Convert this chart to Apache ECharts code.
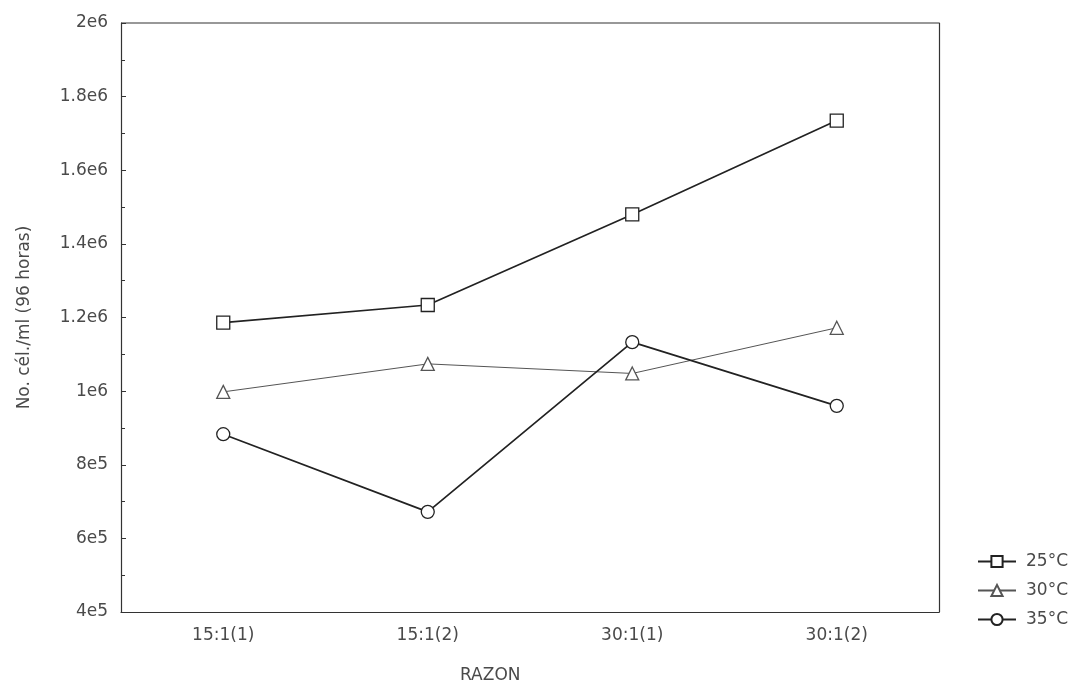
<!DOCTYPE html>
<html>
<head>
<meta charset="utf-8">
<script src="https://cdn.jsdelivr.net/npm/echarts@6/dist/echarts.min.js"></script>
<style>
  html, body { margin: 0; padding: 0; background: #fff; }
  #chart { width: 1081px; height: 688px; }
</style>
</head>
<body>
<div id="chart"></div>
<script>
const categories = ['15:1(1)', '15:1(2)', '30:1(1)', '30:1(2)']
const t25 = [1186000, 1234000, 1480000, 1735000]
const t30 = [998000, 1074000, 1048000, 1172000]
const t35 = [883000, 672000, 1133000, 960000]
const yTickLabels = ['4e5', '6e5', '8e5', '1e6', '1.2e6', '1.4e6', '1.6e6', '1.8e6', '2e6']

const ink = '#333'
const txt = '#4a4a4a'
const font = '"DejaVu Sans", Verdana, sans-serif'

function hollow(name, data, symbol, width, color) {
  return {
    name: name,
    type: 'line',
    data: data,
    symbol: symbol,
    symbolSize: 13,
    showSymbol: true,
    lineStyle: { color: color, width: width },
    itemStyle: { color: '#fff', borderColor: color, borderWidth: 1.3 },
    emphasis: { disabled: true },
    z: 3
  }
}

const chart = echarts.init(document.getElementById('chart'))
chart.setOption({
  animation: false,
  backgroundColor: '#fff',
  textStyle: { fontFamily: font },
  grid: { left: 121, right: 142, top: 23, bottom: 76 },
  legend: {
    orient: 'vertical',
    left: 972,
    top: 548,
    itemGap: 12,
    itemWidth: 38,
    itemHeight: 14,
    textStyle: { color: txt, fontSize: 17, fontFamily: font, padding: [0, 0, 0, 5] },
    data: ['25°C', '30°C', '35°C']
  },
  xAxis: {
    type: 'category',
    data: categories,
    boundaryGap: true,
    axisLine: { lineStyle: { color: ink, width: 1.2 } },
    axisTick: { inside: true, alignWithLabel: true, length: 5, lineStyle: { color: ink } },
    axisLabel: { color: txt, fontSize: 17, margin: 15, fontFamily: font },
    splitLine: { show: false }
  },
  yAxis: [
    {
      type: 'value',
      min: 400000,
      max: 2000000,
      interval: 200000,
      axisLine: { show: true, lineStyle: { color: ink, width: 1.2 } },
      axisTick: { show: true, inside: true, length: 5, lineStyle: { color: ink } },
      minorTick: { show: true, splitNumber: 2, length: 4, lineStyle: { color: ink } },
      axisLabel: {
        color: txt,
        fontSize: 17,
        margin: 13,
        fontFamily: font,
        formatter: function (v) {
          return yTickLabels[Math.round((v - 400000) / 200000)]
        }
      },
      splitLine: { show: false },
      name: 'No. cél./ml (96 horas)',
      nameLocation: 'middle',
      nameGap: 88,
      nameTextStyle: { color: txt, fontSize: 17, fontFamily: font }
    },
    {
      type: 'value',
      position: 'right',
      min: 400000,
      max: 2000000,
      interval: 200000,
      axisLine: { show: true, lineStyle: { color: ink, width: 1.2 } },
      axisTick: { show: false },
      axisLabel: { show: false },
      splitLine: { show: false }
    }
  ],
  graphic: [
    {
      type: 'line',
      shape: { x1: 121, y1: 23, x2: 939, y2: 23 },
      style: { stroke: ink, lineWidth: 1.2 }
    },
    {
      type: 'text',
      left: 460,
      top: 667,
      style: { text: 'RAZON', fill: txt, font: '17px ' + font }
    }
  ],
  series: [
    hollow('25°C', t25, 'rect', 1.7, '#222'),
    hollow('30°C', t30, 'triangle', 1, '#555'),
    hollow('35°C', t35, 'circle', 1.7, '#222')
  ]
})
</script>
</body>
</html>
